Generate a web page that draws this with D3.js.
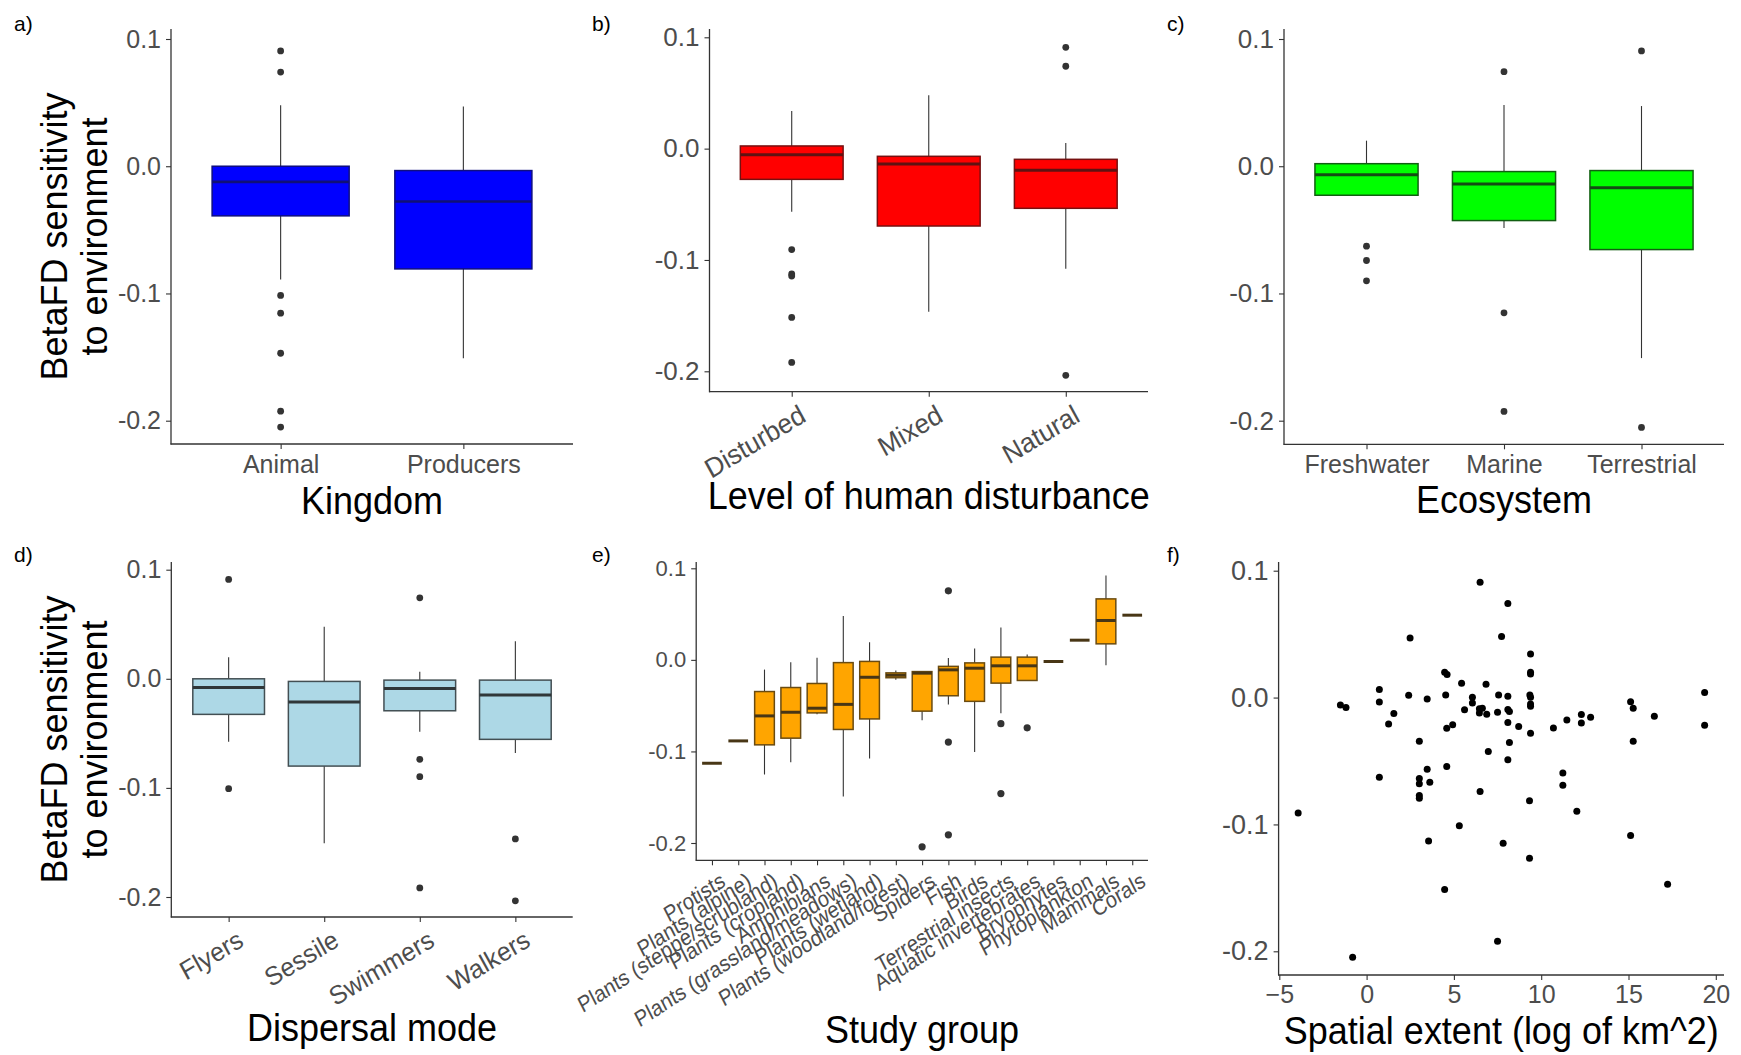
<!DOCTYPE html>
<html><head><meta charset="utf-8">
<script src="https://cdn.jsdelivr.net/npm/d3@7"></script>
<style>
body{margin:0;background:#fff}
svg{display:block}
text{font-family:"Liberation Sans",Arial,Helvetica,sans-serif}
</style>
</head><body>
<svg id="chart" width="1741" height="1055"></svg>
<script>
// ---------------- DATA ----------------
const yTickValues = [-0.2, -0.1, 0.0, 0.1];
const fXTickValues = [-5, 0, 5, 10, 15, 20];

// a) Kingdom
const kingdomCats = ["Animal", "Producers"];
const kingdomQ1  = [-0.0390, -0.0807];
const kingdomMed = [-0.0123, -0.0277];
const kingdomQ3  = [ 0.0000, -0.0034];
const kingdomLo  = [-0.0890, -0.1510];
const kingdomHi  = [ 0.0480,  0.0470];
const kingdomOut = [[0.0906, 0.0740, -0.1015, -0.1155, -0.1470, -0.1925, -0.2050], []];

// b) Level of human disturbance
const disturbCats = ["Disturbed", "Mixed", "Natural"];
const disturbQ1  = [-0.0276, -0.0695, -0.0536];
const disturbMed = [-0.0054, -0.0138, -0.0195];
const disturbQ3  = [ 0.0024, -0.0069, -0.0096];
const disturbLo  = [-0.0566, -0.1464, -0.1078];
const disturbHi  = [ 0.0339,  0.0479,  0.0051];
const disturbOut = [[-0.0907, -0.1126, -0.1144, -0.1516, -0.1920], [], [0.0910, 0.0740, -0.2036]];

// c) Ecosystem
const ecoCats = ["Freshwater", "Marine", "Terrestrial"];
const ecoQ1  = [-0.0228, -0.0427, -0.0655];
const ecoMed = [-0.0066, -0.0139, -0.0170];
const ecoQ3  = [ 0.0020, -0.0042, -0.0034];
const ecoLo  = [-0.0228, -0.0485, -0.1508];
const ecoHi  = [ 0.0201,  0.0482,  0.0473];
const ecoOut = [[-0.0628, -0.0741, -0.0901], [0.0743, -0.1152, -0.1927], [0.0906, -0.2053]];

// d) Dispersal mode
const dispCats = ["Flyers", "Sessile", "Swimmers", "Walkers"];
const dispQ1  = [-0.0326, -0.0800, -0.0293, -0.0555];
const dispMed = [-0.0079, -0.0213, -0.0088, -0.0149];
const dispQ3  = [ 0.0000, -0.0024, -0.0012, -0.0012];
const dispLo  = [-0.0577, -0.1508, -0.0485, -0.0680];
const dispHi  = [ 0.0198,  0.0476,  0.0064,  0.0345];
const dispOut = [[0.0911, -0.1007], [], [0.0742, -0.0738, -0.0897, -0.1917], [-0.1468, -0.2035]];

// e) Study group
const groupCats = ["Protists", "Plants (alpine)", "Plants (steppe/scrubland)", "Plants (cropland)",
  "Amphibians", "Plants (grassland/meadows)", "Plants (wetland)", "Plants (woodland/forest)",
  "Spiders", "Fish", "Birds", "Terrestrial insects", "Aquatic invertebrates", "Bryophytes",
  "Phytoplankton", "Mammals", "Corals"];
const groupQ1  = [-0.1129, -0.0885, -0.0928, -0.0855, -0.0579, -0.0760, -0.0645, -0.0195, -0.0560, -0.0392, -0.0453, -0.0254, -0.0225, -0.0018, 0.0215, 0.0175, 0.0488];
const groupMed = [-0.1129, -0.0885, -0.0612, -0.0572, -0.0528, -0.0486, -0.0190, -0.0168, -0.0145, -0.0109, -0.0091, -0.0065, -0.0065, -0.0018, 0.0215, 0.0430, 0.0488];
const groupQ3  = [-0.1129, -0.0885, -0.0346, -0.0302, -0.0258, -0.0030, -0.0017, -0.0142, -0.0128, -0.0071, -0.0033, 0.0030, 0.0030, -0.0018, 0.0215, 0.0666, 0.0488];
const groupLo  = [-0.1129, -0.0885, -0.1252, -0.1118, -0.0595, -0.1493, -0.1078, -0.0218, -0.0660, -0.0488, -0.1005, -0.0582, -0.0225, -0.0018, 0.0215, -0.0058, 0.0488];
const groupHi  = [-0.1129, -0.0885, -0.0106, -0.0025, 0.0022, 0.0480, 0.0193, -0.0117, -0.0128, 0.0020, 0.0124, 0.0353, 0.0058, -0.0018, 0.0215, 0.0921, 0.0488];
const groupOut = [[], [], [], [], [], [], [], [], [-0.2042], [0.0754, -0.0898, -0.1911], [], [-0.0697, -0.1460], [-0.0742], [], [], [], []];

// f) Spatial extent scatter
const extentX = [-3.92, -1.50, -1.18, -0.80, 0.73, 0.73, 0.73, 1.26, 1.56, 2.41, 2.49, 3.02, 3.02, 3.02, 3.02, 3.02,
  3.47, 3.47, 3.62, 3.55, 4.47, 4.47, 4.61, 4.53, 4.59, 4.93, 4.59, 5.31, 5.44, 5.61, 6.06, 6.06, 6.50, 6.46, 6.46,
  6.63, 6.50, 6.84, 6.88, 6.97, 7.50, 7.56, 7.73, 7.82, 7.50, 8.09, 8.09, 8.09, 8.18, 8.09, 8.18, 8.09, 8.71, 9.39,
  9.39, 9.39, 9.35, 9.39, 9.39, 9.39, 9.39, 9.33, 9.33, 10.70, 11.24, 11.24, 11.47, 12.04, 12.30, 12.30, 12.83,
  15.12, 15.27, 15.27, 15.12, 16.48, 17.24, 19.36, 19.36];
const extentY = [-0.0909, -0.0058, -0.0079, -0.2046, 0.0063, -0.0034, -0.0628, -0.0208, -0.0126, 0.0018, 0.0470,
  -0.0344, -0.0638, -0.0680, -0.0772, -0.0793, -0.0011, -0.0565, -0.0667, -0.1130, -0.1513, 0.0200, 0.0181, 0.0021,
  -0.0242, -0.0215, -0.0544, -0.1011, 0.0113, -0.0097, 0.0003, -0.0042, 0.0909, -0.0089, -0.0121, -0.0084, -0.0741,
  0.0105, -0.0131, -0.0426, -0.0116, 0.0021, 0.0481, -0.1148, -0.1920, 0.0741, 0.0011, -0.0095, -0.0110, -0.0197,
  -0.0355, -0.0491, -0.0229, 0.0344, 0.0200, 0.0186, 0.0021, 0.0003, -0.0050, -0.0068, -0.0281, -0.0814, -0.1266,
  -0.0239, -0.0594, -0.0691, -0.0176, -0.0896, -0.0134, -0.0200, -0.0155, -0.0032, -0.0084, -0.0344, -0.1087,
  -0.0147, -0.1471, 0.0039, -0.0218];

// ---------------- DRAWING ----------------
const svg = d3.select("#chart");
const FONT = '"Liberation Sans",Arial,Helvetica,sans-serif';
const AXIS = "#333333";
const TICKTXT = "#4d4d4d";
const fmt = d => d.toFixed(1);
const darken = (c, t) => d3.interpolateRgb(c, "#1a1a1a")(t);

function yAxisTitle(g, cfg) {
  const cy = (cfg.top + cfg.bottom) / 2;
  const t = g.append("g").attr("transform", "rotate(-90)");
  t.append("text").attr("x", -cy).attr("y", cfg.left - 104).attr("text-anchor", "middle")
    .attr("font-size", 36).attr("fill", "#000").text("BetaFD sensitivity");
  t.append("text").attr("x", -cy).attr("y", cfg.left - 64).attr("text-anchor", "middle")
    .attr("font-size", 36).attr("fill", "#000").text("to environment");
}

function drawAxes(g, cfg, x, y, opts) {
  // y axis
  const ya = g.append("g").attr("transform", `translate(${cfg.left},0)`)
    .call(d3.axisLeft(y).tickValues(yTickValues).tickFormat(fmt).tickSize(5).tickPadding(5).tickSizeOuter(0));
  ya.select(".domain").remove();
  ya.selectAll(".tick line").attr("stroke", AXIS).attr("stroke-width", 1.1);
  ya.selectAll(".tick text").attr("font-family", FONT).attr("font-size", opts.yFont).attr("fill", TICKTXT);
  ya.attr("font-family", null).attr("font-size", null);
  // x axis
  const axisGen = d3.axisBottom(x).tickSize(5).tickPadding(opts.xPad || 6).tickSizeOuter(0);
  if (opts.xTicks) axisGen.tickValues(opts.xTicks);
  const xa = g.append("g").attr("transform", `translate(0,${cfg.bottom})`).call(axisGen);
  xa.select(".domain").remove();
  xa.attr("font-family", null).attr("font-size", null);
  xa.selectAll(".tick line").attr("stroke", AXIS).attr("stroke-width", 1.1);
  const tx = xa.selectAll(".tick text").attr("font-family", FONT).attr("font-size", opts.xFont).attr("fill", TICKTXT);
  if (opts.rotate) {
    tx.attr("x", 0).attr("y", 0).attr("dy", "0.71em").attr("text-anchor", "end")
      .attr("transform", `translate(${opts.rdx},${opts.rdy}) scale(1,${opts.rs}) rotate(-30)`);
  }
  // axis lines
  g.append("line").attr("x1", cfg.left).attr("x2", cfg.left).attr("y1", cfg.top).attr("y2", cfg.bottom + 0.5)
    .attr("stroke", AXIS).attr("stroke-width", 1.3);
  g.append("line").attr("x1", cfg.left - 0.5).attr("x2", cfg.right).attr("y1", cfg.bottom).attr("y2", cfg.bottom)
    .attr("stroke", AXIS).attr("stroke-width", 1.3);
  // x title (slightly tall glyphs, as in the reference)
  g.append("text").attr("text-anchor", "middle")
    .attr("transform", `translate(${(cfg.left + cfg.right) / 2},${opts.titleY}) scale(1,1.08)`)
    .attr("font-size", 36).attr("fill", "#000").text(opts.title);
  // panel letter
  g.append("text").attr("x", opts.letterX).attr("y", opts.letterY).attr("font-size", 21).attr("fill", "#000").text(opts.letter);
}

function boxPanel(cfg, d, opts) {
  const g = svg.append("g");
  const x = d3.scalePoint().domain(d.cats).range([cfg.left, cfg.right]).padding(0.6);
  const y = d3.scaleLinear().domain([-0.2, 0.1]).range([cfg.tm02, cfg.t01]);
  const bw = x.step() * 0.75;
  const boxStroke = darken(opts.fill, opts.strokeT);
  const medStroke = darken(opts.fill, opts.medT);
  drawAxes(g, cfg, x, y, opts);
  const items = d.cats.map((c, i) => ({c, q1: d.q1[i], med: d.med[i], q3: d.q3[i], lo: d.lo[i], hi: d.hi[i], out: d.out[i]}));
  const gi = g.append("g").selectAll("g").data(items).join("g");
  gi.append("line").attr("x1", v => x(v.c)).attr("x2", v => x(v.c))
    .attr("y1", v => y(v.hi)).attr("y2", v => y(v.lo)).attr("stroke", AXIS).attr("stroke-width", 1.1);
  gi.append("rect").attr("x", v => x(v.c) - bw / 2).attr("width", bw)
    .attr("y", v => y(v.q3)).attr("height", v => y(v.q1) - y(v.q3))
    .attr("fill", opts.fill).attr("stroke", boxStroke).attr("stroke-width", 1.5);
  gi.append("line").attr("x1", v => x(v.c) - bw / 2).attr("x2", v => x(v.c) + bw / 2)
    .attr("y1", v => y(v.med)).attr("y2", v => y(v.med)).attr("stroke", medStroke).attr("stroke-width", opts.medW);
  gi.selectAll("circle").data(v => v.out.map(o => ({c: v.c, o}))).join("circle")
    .attr("cx", p => x(p.c)).attr("cy", p => y(p.o)).attr("r", opts.r || 3.4).attr("fill", "#333333");
  if (opts.yTitle) yAxisTitle(g, cfg);
}

// a)
boxPanel({left: 171, right: 573, top: 29, bottom: 444, t01: 39, tm02: 420.7},
  {cats: kingdomCats, q1: kingdomQ1, med: kingdomMed, q3: kingdomQ3, lo: kingdomLo, hi: kingdomHi, out: kingdomOut},
  {fill: "#0000FF", strokeT: 0.55, medT: 0.6, medW: 2.6, yFont: 25, xFont: 25, xPad: 6, title: "Kingdom", titleY: 514,
   letter: "a)", letterX: 14, letterY: 31, yTitle: true});
// b)
boxPanel({left: 709.5, right: 1148, top: 29, bottom: 391.7, t01: 37.3, tm02: 371.3},
  {cats: disturbCats, q1: disturbQ1, med: disturbMed, q3: disturbQ3, lo: disturbLo, hi: disturbHi, out: disturbOut},
  {fill: "#FF0000", strokeT: 0.6, medT: 0.7, medW: 3, yFont: 26, xFont: 26, rotate: true, rdx: 6, rdy: 12, rs: 1.05,
   title: "Level of human disturbance", titleY: 509, letter: "b)", letterX: 592, letterY: 31});
// c)
boxPanel({left: 1284, right: 1724, top: 29, bottom: 444.3, t01: 39, tm02: 420.7},
  {cats: ecoCats, q1: ecoQ1, med: ecoMed, q3: ecoQ3, lo: ecoLo, hi: ecoHi, out: ecoOut},
  {fill: "#00FF00", strokeT: 0.7, medT: 0.78, medW: 3, yFont: 26, xFont: 25, xPad: 6,
   title: "Ecosystem", titleY: 513, letter: "c)", letterX: 1167, letterY: 31});
// d)
boxPanel({left: 171.3, right: 572.7, top: 562, bottom: 917, t01: 569.7, tm02: 897},
  {cats: dispCats, q1: dispQ1, med: dispMed, q3: dispQ3, lo: dispLo, hi: dispHi, out: dispOut},
  {fill: "#ADD8E6", strokeT: 0.72, medT: 0.85, medW: 3, yFont: 25, xFont: 25, rotate: true, rdx: 7, rdy: 12, rs: 1.05,
   title: "Dispersal mode", titleY: 1041, letter: "d)", letterX: 14, letterY: 562, yTitle: true});
// e)
boxPanel({left: 696.2, right: 1148, top: 562, bottom: 860.3, t01: 568.3, tm02: 843},
  {cats: groupCats, q1: groupQ1, med: groupMed, q3: groupQ3, lo: groupLo, hi: groupHi, out: groupOut},
  {fill: "#FFA500", strokeT: 0.65, medT: 0.8, medW: 3, yFont: 22, xFont: 20, rotate: true, rdx: 7, rdy: 11, rs: 1.13, r: 3.6,
   title: "Study group", titleY: 1043, letter: "e)", letterX: 592, letterY: 562});

// f) scatter
(function () {
  const cfg = {left: 1278.6, right: 1724, top: 562, bottom: 975, t01: 570.7, tm02: 951.3};
  const g = svg.append("g");
  const x = d3.scaleLinear().domain([-5, 20]).range([1279.3, 1715.8]);
  const y = d3.scaleLinear().domain([-0.2, 0.1]).range([cfg.tm02, cfg.t01]);
  drawAxes(g, cfg, x, y, {yFont: 27, xFont: 25, xPad: 5, xTicks: fXTickValues,
    title: "Spatial extent (log of km^2)", titleY: 1044, letter: "f)", letterX: 1167, letterY: 562});
  const pts = extentX.map((v, i) => ({x: v, y: extentY[i]}));
  g.append("g").selectAll("circle").data(pts).join("circle")
    .attr("cx", p => x(p.x)).attr("cy", p => y(p.y)).attr("r", 3.5).attr("fill", "#000");
})();
</script>
</body></html>
